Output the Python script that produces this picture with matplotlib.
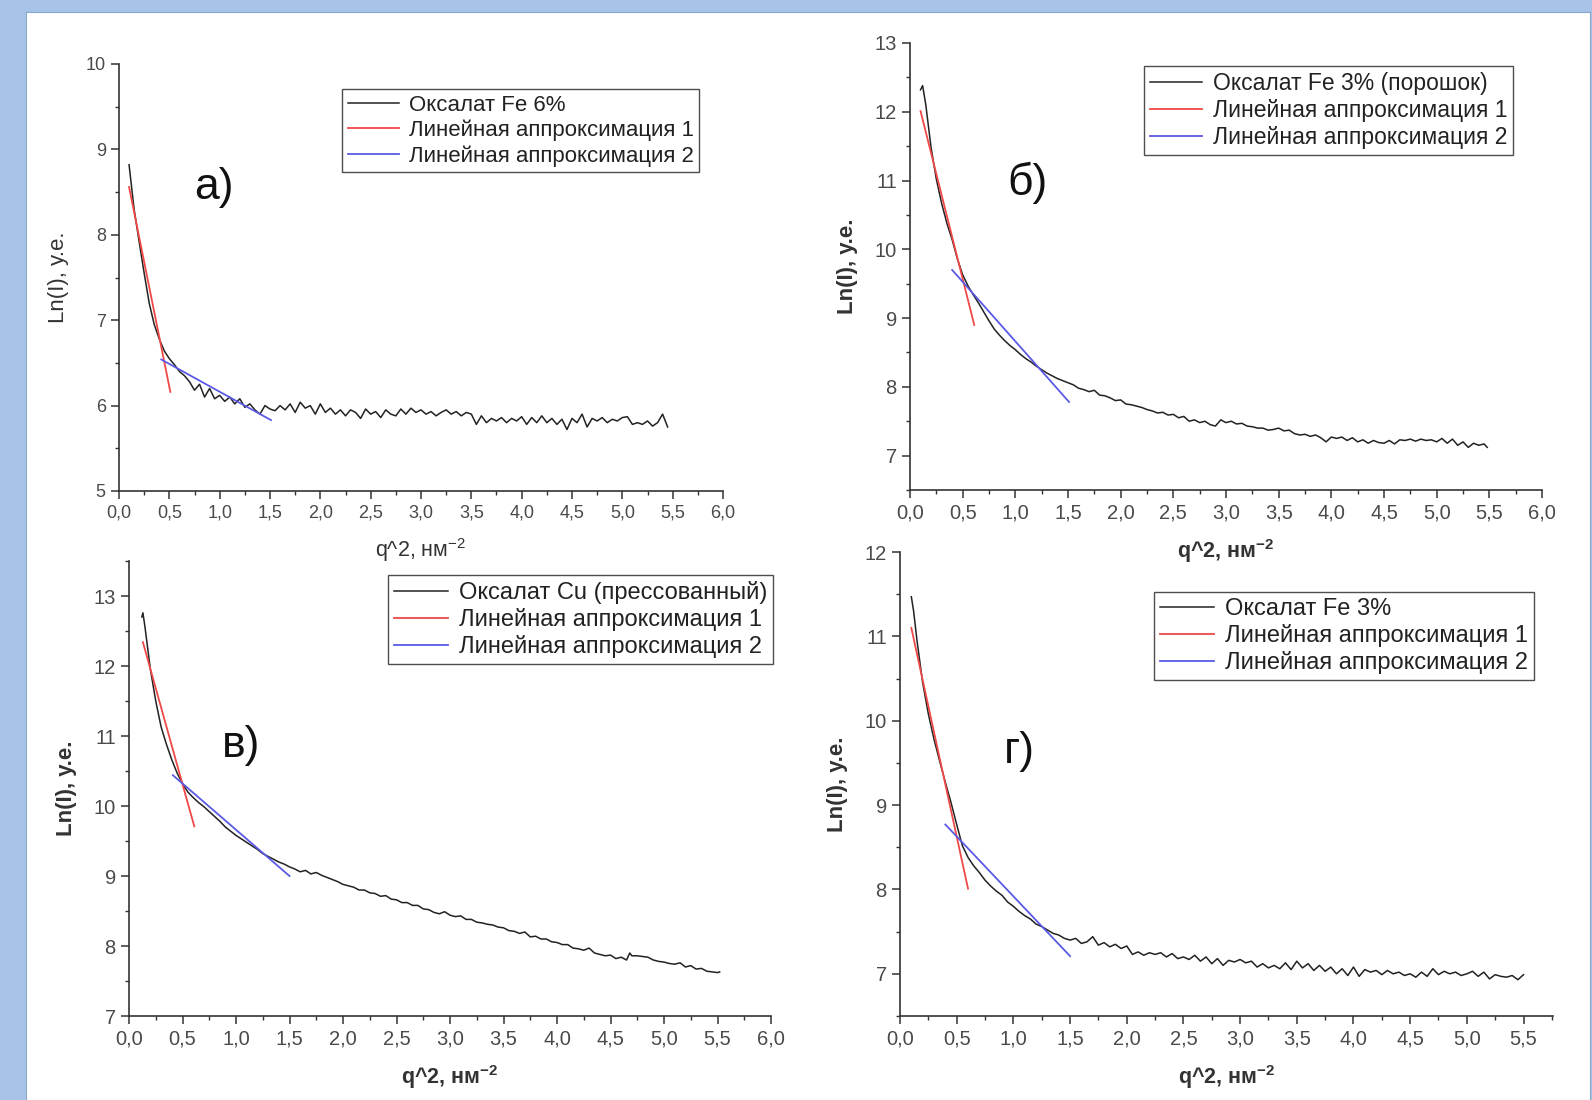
import matplotlib
matplotlib.use("Agg")
import matplotlib.pyplot as plt
from matplotlib.ticker import MultipleLocator, FuncFormatter

plt.rcParams['font.family'] = ['Liberation Sans', 'DejaVu Sans']
plt.rcParams['mathtext.default'] = 'regular'

W, H = 1592, 1100

# panel а) - Оксалат Fe 6%
xa = [0.10, 0.15, 0.20, 0.25, 0.30, 0.35, 0.40, 0.45, 0.50, 0.55,
      0.60, 0.65, 0.70, 0.75, 0.80, 0.85, 0.90, 0.95, 1.00, 1.05,
      1.10, 1.15, 1.20, 1.25, 1.30, 1.35, 1.40, 1.45, 1.50, 1.55,
      1.60, 1.65, 1.70, 1.75, 1.80, 1.85, 1.90, 1.95, 2.00, 2.05,
      2.10, 2.15, 2.20, 2.25, 2.30, 2.35, 2.40, 2.45, 2.50, 2.55,
      2.60, 2.65, 2.70, 2.75, 2.80, 2.85, 2.90, 2.95, 3.00, 3.05,
      3.10, 3.15, 3.20, 3.25, 3.30, 3.35, 3.40, 3.45, 3.50, 3.55,
      3.60, 3.65, 3.70, 3.75, 3.80, 3.85, 3.90, 3.95, 4.00, 4.05,
      4.10, 4.15, 4.20, 4.25, 4.30, 4.35, 4.40, 4.45, 4.50, 4.55,
      4.60, 4.65, 4.70, 4.75, 4.80, 4.85, 4.90, 4.95, 5.00, 5.05,
      5.10, 5.15, 5.20, 5.25, 5.30, 5.35, 5.40, 5.45]
ya = [8.82, 8.30, 7.92, 7.55, 7.20, 6.95, 6.78, 6.64, 6.55, 6.48,
      6.40, 6.35, 6.28, 6.18, 6.25, 6.10, 6.20, 6.08, 6.12, 6.05,
      6.10, 6.02, 6.08, 5.98, 6.02, 5.95, 5.90, 6.00, 5.96, 5.94,
      6.00, 5.95, 6.02, 5.92, 6.04, 5.97, 6.00, 5.90, 6.02, 5.92,
      5.97, 5.90, 5.95, 5.88, 5.95, 5.92, 5.85, 5.96, 5.90, 5.93,
      5.86, 5.95, 5.90, 5.88, 5.96, 5.90, 5.97, 5.92, 5.95, 5.90,
      5.93, 5.88, 5.92, 5.95, 5.90, 5.93, 5.88, 5.92, 5.90, 5.78,
      5.88, 5.80, 5.85, 5.82, 5.86, 5.80, 5.85, 5.82, 5.87, 5.78,
      5.86, 5.80, 5.88, 5.80, 5.85, 5.78, 5.84, 5.72, 5.85, 5.80,
      5.90, 5.75, 5.85, 5.82, 5.86, 5.80, 5.84, 5.82, 5.86, 5.87,
      5.78, 5.80, 5.78, 5.82, 5.76, 5.80, 5.90, 5.75]
fit1_a = ([0.10, 0.51], [8.56, 6.16])
fit2_a = ([0.42, 1.51], [6.54, 5.83])

# panel б) - Оксалат Fe 3% (порошок)
xb = [0.10, 0.12, 0.15, 0.20, 0.25, 0.30, 0.35, 0.40, 0.45, 0.50,
      0.55, 0.60, 0.65, 0.70, 0.75, 0.80, 0.85, 0.90, 0.95, 1.00,
      1.05, 1.10, 1.15, 1.20, 1.25, 1.30, 1.35, 1.40, 1.45, 1.50,
      1.55, 1.60, 1.65, 1.70, 1.75, 1.80, 1.85, 1.90, 1.95, 2.00,
      2.05, 2.10, 2.15, 2.20, 2.25, 2.30, 2.35, 2.40, 2.45, 2.50,
      2.55, 2.60, 2.65, 2.70, 2.75, 2.80, 2.85, 2.90, 2.95, 3.00,
      3.05, 3.10, 3.15, 3.20, 3.25, 3.30, 3.35, 3.40, 3.45, 3.50,
      3.55, 3.60, 3.65, 3.70, 3.75, 3.80, 3.85, 3.90, 3.95, 4.00,
      4.05, 4.10, 4.15, 4.20, 4.25, 4.30, 4.35, 4.40, 4.45, 4.50,
      4.55, 4.60, 4.65, 4.70, 4.75, 4.80, 4.85, 4.90, 4.95, 5.00,
      5.05, 5.10, 5.15, 5.20, 5.25, 5.30, 5.35, 5.40, 5.45, 5.48]
yb = [12.32, 12.38, 12.10, 11.48, 11.02, 10.67, 10.38, 10.14, 9.86, 9.63,
      9.47, 9.34, 9.22, 9.09, 8.96, 8.84, 8.75, 8.67, 8.60, 8.54,
      8.47, 8.41, 8.36, 8.30, 8.25, 8.20, 8.16, 8.12, 8.09, 8.06,
      8.03, 7.98, 7.96, 7.93, 7.95, 7.88, 7.87, 7.84, 7.80, 7.81,
      7.75, 7.74, 7.72, 7.70, 7.67, 7.65, 7.62, 7.63, 7.59, 7.60,
      7.55, 7.57, 7.50, 7.52, 7.48, 7.50, 7.45, 7.43, 7.52, 7.48,
      7.50, 7.46, 7.47, 7.43, 7.42, 7.40, 7.40, 7.37, 7.38, 7.40,
      7.36, 7.37, 7.32, 7.30, 7.31, 7.28, 7.30, 7.26, 7.20, 7.27,
      7.25, 7.27, 7.22, 7.26, 7.20, 7.23, 7.18, 7.22, 7.19, 7.18,
      7.22, 7.17, 7.23, 7.22, 7.24, 7.21, 7.24, 7.22, 7.23, 7.20,
      7.25, 7.18, 7.24, 7.15, 7.20, 7.12, 7.18, 7.15, 7.17, 7.12]
fit1_b = ([0.10, 0.61], [12.01, 8.90])
fit2_b = ([0.40, 1.51], [9.70, 7.78])

# panel в) - Оксалат Cu (прессованный)
xc = [0.12, 0.13, 0.15, 0.20, 0.25, 0.30, 0.35, 0.40, 0.45, 0.50,
      0.55, 0.60, 0.65, 0.70, 0.75, 0.80, 0.85, 0.90, 0.95, 1.00,
      1.05, 1.10, 1.15, 1.20, 1.25, 1.30, 1.35, 1.40, 1.45, 1.50,
      1.55, 1.60, 1.65, 1.70, 1.75, 1.80, 1.85, 1.90, 1.95, 2.00,
      2.05, 2.10, 2.15, 2.20, 2.25, 2.30, 2.35, 2.40, 2.45, 2.50,
      2.55, 2.60, 2.65, 2.70, 2.75, 2.80, 2.85, 2.90, 2.95, 3.00,
      3.05, 3.10, 3.15, 3.20, 3.25, 3.30, 3.35, 3.40, 3.45, 3.50,
      3.55, 3.60, 3.65, 3.70, 3.75, 3.80, 3.85, 3.90, 3.95, 4.00,
      4.05, 4.10, 4.15, 4.20, 4.25, 4.30, 4.35, 4.40, 4.45, 4.50,
      4.55, 4.60, 4.65, 4.68, 4.70, 4.75, 4.80, 4.85, 4.90, 4.95,
      5.00, 5.05, 5.10, 5.15, 5.20, 5.25, 5.30, 5.35, 5.40, 5.45,
      5.50, 5.52]
yc = [12.70, 12.76, 12.55, 11.95, 11.50, 11.13, 10.88, 10.66, 10.47, 10.32,
      10.20, 10.12, 10.05, 9.99, 9.92, 9.85, 9.78, 9.70, 9.64, 9.58,
      9.53, 9.48, 9.43, 9.38, 9.32, 9.28, 9.24, 9.20, 9.17, 9.13,
      9.10, 9.06, 9.08, 9.03, 9.05, 9.01, 8.98, 8.95, 8.92, 8.88,
      8.86, 8.84, 8.80, 8.80, 8.76, 8.75, 8.71, 8.72, 8.67, 8.66,
      8.62, 8.62, 8.58, 8.58, 8.53, 8.52, 8.48, 8.46, 8.49, 8.44,
      8.42, 8.43, 8.38, 8.38, 8.34, 8.33, 8.31, 8.30, 8.27, 8.26,
      8.22, 8.21, 8.18, 8.20, 8.13, 8.14, 8.10, 8.10, 8.06, 8.05,
      8.02, 8.02, 7.97, 7.96, 7.94, 7.97, 7.90, 7.88, 7.86, 7.87,
      7.82, 7.84, 7.80, 7.90, 7.86, 7.86, 7.85, 7.84, 7.80, 7.78,
      7.77, 7.75, 7.74, 7.76, 7.70, 7.72, 7.67, 7.68, 7.64, 7.63,
      7.62, 7.63]
fit1_c = ([0.13, 0.61], [12.34, 9.71])
fit2_c = ([0.41, 1.50], [10.44, 9.00])

# panel г) - Оксалат Fe 3%
xd = [0.10, 0.12, 0.15, 0.20, 0.25, 0.30, 0.35, 0.40, 0.45, 0.50,
      0.55, 0.60, 0.65, 0.70, 0.75, 0.80, 0.85, 0.90, 0.95, 1.00,
      1.05, 1.10, 1.15, 1.20, 1.25, 1.30, 1.35, 1.40, 1.45, 1.50,
      1.55, 1.60, 1.65, 1.70, 1.75, 1.80, 1.85, 1.90, 1.95, 2.00,
      2.05, 2.10, 2.15, 2.20, 2.25, 2.30, 2.35, 2.40, 2.45, 2.50,
      2.55, 2.60, 2.65, 2.70, 2.75, 2.80, 2.85, 2.90, 2.95, 3.00,
      3.05, 3.10, 3.15, 3.20, 3.25, 3.30, 3.35, 3.40, 3.45, 3.50,
      3.55, 3.60, 3.65, 3.70, 3.75, 3.80, 3.85, 3.90, 3.95, 4.00,
      4.05, 4.10, 4.15, 4.20, 4.25, 4.30, 4.35, 4.40, 4.45, 4.50,
      4.55, 4.60, 4.65, 4.70, 4.75, 4.80, 4.85, 4.90, 4.95, 5.00,
      5.05, 5.10, 5.15, 5.20, 5.25, 5.30, 5.35, 5.40, 5.45, 5.50]
yd = [11.47, 11.30, 10.95, 10.45, 10.08, 9.78, 9.52, 9.27, 9.03, 8.77,
      8.52, 8.38, 8.28, 8.20, 8.11, 8.04, 7.98, 7.93, 7.85, 7.80,
      7.74, 7.69, 7.65, 7.59, 7.56, 7.52, 7.48, 7.46, 7.42, 7.40,
      7.42, 7.36, 7.38, 7.44, 7.34, 7.37, 7.32, 7.35, 7.30, 7.33,
      7.23, 7.26, 7.22, 7.25, 7.23, 7.25, 7.20, 7.24, 7.18, 7.20,
      7.17, 7.22, 7.15, 7.20, 7.12, 7.18, 7.10, 7.16, 7.14, 7.17,
      7.13, 7.15, 7.08, 7.12, 7.07, 7.10, 7.06, 7.13, 7.05, 7.15,
      7.07, 7.12, 7.04, 7.10, 7.03, 7.08, 7.00, 7.06, 6.98, 7.08,
      6.97, 7.05, 7.02, 7.04, 6.99, 7.04, 7.00, 7.02, 6.98, 7.00,
      6.96, 7.02, 6.97, 7.06, 6.99, 7.03, 7.00, 7.02, 6.98, 7.00,
      7.03, 6.97, 7.02, 6.94, 6.99, 6.97, 6.96, 6.98, 6.93, 6.99]
fit1_d = ([0.10, 0.60], [11.10, 8.01])
fit2_d = ([0.40, 1.50], [8.77, 7.21])

legend_names = [
    ["Оксалат Fe 6%", "Линейная аппроксимация 1", "Линейная аппроксимация 2"],
    ["Оксалат Fe 3% (порошок)", "Линейная аппроксимация 1", "Линейная аппроксимация 2"],
    ["Оксалат Cu (прессованный)", "Линейная аппроксимация 1", "Линейная аппроксимация 2"],
    ["Оксалат Fe 3%", "Линейная аппроксимация 1", "Линейная аппроксимация 2"],
]
panel_labels = ["а)", "б)", "в)", "г)"]

fig = plt.figure(figsize=(W / 100, H / 100), dpi=100)
fig.patch.set_facecolor('#a7c3e7')
# white "page" behind the plots
page = fig.add_axes([26 / W, 0, (1590 - 26) / W, 1 - 12 / H], zorder=-5)
page.set_facecolor('white')
page.set_xticks([])
page.set_yticks([])
for s in page.spines.values():
    s.set_color('#8aa8cc')
    s.set_linewidth(0.8)


def make_axes(l, t, r, b):
    return fig.add_axes([l / W, 1 - b / H, (r - l) / W, (b - t) / H])


comma = FuncFormatter(lambda v, p: ("%.1f" % v).replace(".", ","))

panels = [
    dict(box=(119, 64, 723, 491), x=xa, y=ya, f1=fit1_a, f2=fit2_a,
         xlim=(0, 6.0), ylim=(5, 10), leg=(342, 89), lab=(214, 188),
         bold=False, fs_tick=13, fs_leg=16),
    dict(box=(910, 43, 1542, 490), x=xb, y=yb, f1=fit1_b, f2=fit2_b,
         xlim=(0, 6.0), ylim=(6.5, 13), leg=(1144, 66), lab=(1028, 183),
         bold=True, fs_tick=14.5, fs_leg=16.5),
    dict(box=(129, 561, 771, 1016), x=xc, y=yc, f1=fit1_c, f2=fit2_c,
         xlim=(0, 6.0), ylim=(7, 13.5), leg=(388, 575), lab=(241, 745),
         bold=True, fs_tick=14.5, fs_leg=17),
    dict(box=(900, 552, 1553, 1016), x=xd, y=yd, f1=fit1_d, f2=fit2_d,
         xlim=(0, 5.76), ylim=(6.5, 12), leg=(1154, 592), lab=(1019, 751),
         bold=True, fs_tick=14.5, fs_leg=17),
]

for i, p in enumerate(panels):
    ax = make_axes(*p['box'])
    ax.set_facecolor('none')
    ax.plot(p['x'], p['y'], color='#222222', lw=1.1, label=legend_names[i][0])
    ax.plot(p['f1'][0], p['f1'][1], color='#f04848', lw=1.3, label=legend_names[i][1])
    ax.plot(p['f2'][0], p['f2'][1], color='#5a5ae6', lw=1.3, label=legend_names[i][2])
    ax.set_xlim(*p['xlim'])
    ax.set_ylim(*p['ylim'])
    ax.xaxis.set_major_locator(MultipleLocator(0.5))
    ax.xaxis.set_minor_locator(MultipleLocator(0.25))
    ax.yaxis.set_major_locator(MultipleLocator(1))
    ax.yaxis.set_minor_locator(MultipleLocator(0.5))
    ax.xaxis.set_major_formatter(comma)
    for s in ['top', 'right']:
        ax.spines[s].set_visible(False)
    for s in ['left', 'bottom']:
        ax.spines[s].set_color('#333333')
        ax.spines[s].set_linewidth(1.2)
    ax.tick_params(which='major', direction='out', length=6, width=1.1,
                   color='#333333', labelcolor='#4a4a4a', labelsize=p['fs_tick'])
    ax.tick_params(which='minor', direction='out', length=3, width=1.0,
                   color='#333333')
    w = 'bold' if p['bold'] else 'normal'
    ax.set_xlabel(r"q^2, нм$^{-2}$", fontsize=15.5, color='#333333',
                  fontweight=w, labelpad=11)
    ax.set_ylabel("Ln(I), у.е.", fontsize=16, color='#333333',
                  fontweight=w, labelpad=12)
    leg = ax.legend(loc='upper left', bbox_to_anchor=(p['leg'][0] / W, 1 - p['leg'][1] / H),
                    bbox_transform=fig.transFigure, borderaxespad=0,
                    fontsize=p['fs_leg'], frameon=True, fancybox=False, handlelength=2.3,
                    labelspacing=0.18, borderpad=0.25, handletextpad=0.45)
    leg.get_frame().set_edgecolor('#222222')
    leg.get_frame().set_linewidth(1.0)
    for t in leg.get_texts():
        t.set_color('#222222')
    fig.text(p['lab'][0] / W, 1 - p['lab'][1] / H, panel_labels[i], fontsize=32,
             ha='center', va='center', color='#111111')

fig.savefig("out.png", dpi=100, facecolor=fig.get_facecolor())
